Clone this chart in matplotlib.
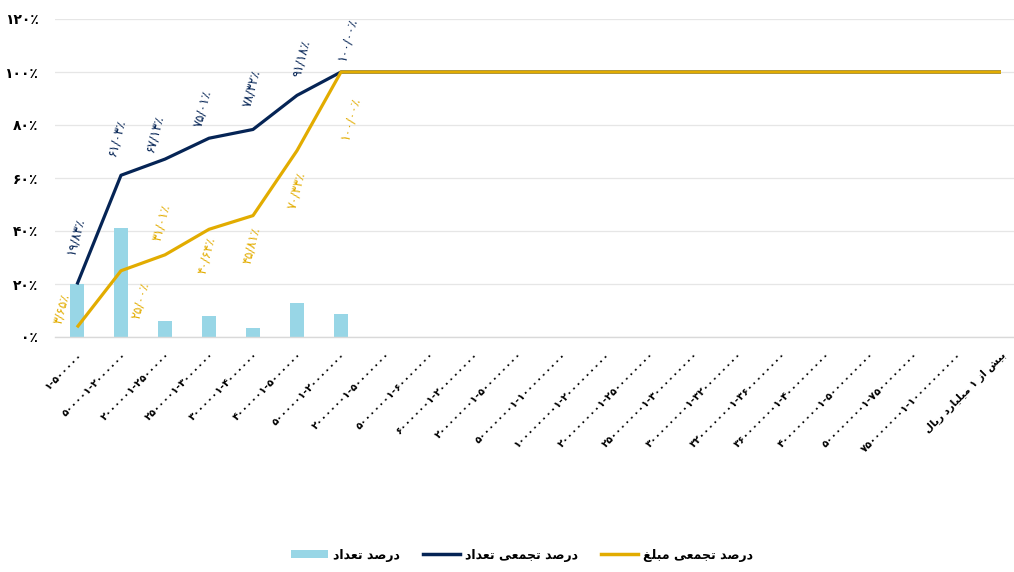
import matplotlib
matplotlib.use("Agg")
import matplotlib.pyplot as plt
from matplotlib.patches import Patch
from matplotlib.lines import Line2D

# ---------------- data ----------------
categories = [
    "۱-۵۰۰۰۰۰",
    "۵۰۰۰۰۱-۲۰۰۰۰۰۰",
    "۲۰۰۰۰۰۱-۲۵۰۰۰۰۰",
    "۲۵۰۰۰۰۱-۳۰۰۰۰۰۰",
    "۳۰۰۰۰۰۱-۴۰۰۰۰۰۰",
    "۴۰۰۰۰۰۱-۵۰۰۰۰۰۰",
    "۵۰۰۰۰۰۱-۲۰۰۰۰۰۰۰",
    "۲۰۰۰۰۰۰۱-۵۰۰۰۰۰۰۰",
    "۵۰۰۰۰۰۰۱-۶۰۰۰۰۰۰۰",
    "۶۰۰۰۰۰۰۱-۲۰۰۰۰۰۰۰۰",
    "۲۰۰۰۰۰۰۰۱-۵۰۰۰۰۰۰۰۰",
    "۵۰۰۰۰۰۰۰۱-۱۰۰۰۰۰۰۰۰۰",
    "۱۰۰۰۰۰۰۰۰۱-۲۰۰۰۰۰۰۰۰۰",
    "۲۰۰۰۰۰۰۰۰۱-۲۵۰۰۰۰۰۰۰۰",
    "۲۵۰۰۰۰۰۰۰۱-۳۰۰۰۰۰۰۰۰۰",
    "۳۰۰۰۰۰۰۰۰۱-۳۲۰۰۰۰۰۰۰۰",
    "۳۲۰۰۰۰۰۰۰۱-۳۶۰۰۰۰۰۰۰۰",
    "۳۶۰۰۰۰۰۰۰۱-۴۰۰۰۰۰۰۰۰۰",
    "۴۰۰۰۰۰۰۰۰۱-۵۰۰۰۰۰۰۰۰۰",
    "۵۰۰۰۰۰۰۰۰۱-۷۵۰۰۰۰۰۰۰۰",
    "۷۵۰۰۰۰۰۰۰۱-۱۰۰۰۰۰۰۰۰۰۰",
    "بیش از ۱ میلیارد ریال",
]
pct_count = [19.83, 41.20, 6.10, 7.88, 3.31, 12.86, 8.82,
             0, 0, 0, 0, 0, 0, 0, 0, 0, 0, 0, 0, 0, 0, 0]
cum_count = [19.83, 61.03, 67.13, 75.01, 78.32, 91.18, 100.00,
             100, 100, 100, 100, 100, 100, 100, 100, 100, 100, 100, 100, 100, 100, 100]
cum_amount = [3.65, 25.00, 31.01, 40.64, 45.81, 70.33, 100.00,
              100, 100, 100, 100, 100, 100, 100, 100, 100, 100, 100, 100, 100, 100, 100]
count_labels = ["۱۹/۸۳٪", "۶۱/۰۳٪", "۶۷/۱۳٪", "۷۵/۰۱٪", "۷۸/۳۲٪", "۹۱/۱۸٪", "۱۰۰/۰۰٪"]
amount_labels = ["۳/۶۵٪", "۲۵/۰۰٪", "۳۱/۰۱٪", "۴۰/۶۴٪", "۴۵/۸۱٪", "۷۰/۳۳٪", "۱۰۰/۰۰٪"]
y_ticks = [0, 20, 40, 60, 80, 100, 120]
y_tick_labels = ["۰٪", "۲۰٪", "۴۰٪", "۶۰٪", "۸۰٪", "۱۰۰٪", "۱۲۰٪"]
series_names = ["درصد تعداد", "درصد تجمعی تعداد", "درصد تجمعی مبلغ"]

# ---------------- minimal Persian shaping ----------------
FORMS = {
    'ا': (0xFE8D, 0xFE8E, None, None),
    'ب': (0xFE8F, 0xFE90, 0xFE91, 0xFE92),
    'ت': (0xFE95, 0xFE96, 0xFE97, 0xFE98),
    'ج': (0xFE9D, 0xFE9E, 0xFE9F, 0xFEA0),
    'د': (0xFEA9, 0xFEAA, None, None),
    'ر': (0xFEAD, 0xFEAE, None, None),
    'ز': (0xFEAF, 0xFEB0, None, None),
    'ش': (0xFEB5, 0xFEB6, 0xFEB7, 0xFEB8),
    'ص': (0xFEB9, 0xFEBA, 0xFEBB, 0xFEBC),
    'ع': (0xFEC9, 0xFECA, 0xFECB, 0xFECC),
    'غ': (0xFECD, 0xFECE, 0xFECF, 0xFED0),
    'ل': (0xFEDD, 0xFEDE, 0xFEDF, 0xFEE0),
    'م': (0xFEE1, 0xFEE2, 0xFEE3, 0xFEE4),
    'ی': (0xFBFC, 0xFBFD, 0xFBFE, 0xFBFF),
}


def shape(text):
    out = []
    n = len(text)
    for i, ch in enumerate(text):
        if ch not in FORMS:
            out.append(ch)
            continue
        prev = text[i - 1] if i > 0 else ''
        nxt = text[i + 1] if i < n - 1 else ''
        jp = prev in FORMS and FORMS[prev][2] is not None
        jn = FORMS[ch][2] is not None and nxt in FORMS
        f = FORMS[ch]
        if jp and jn:
            code = f[3]
        elif jp:
            code = f[1]
        elif jn:
            code = f[2]
        else:
            code = f[0]
        out.append(chr(code))
    return ''.join(out)[::-1]


def vis(text):
    if any(c in FORMS for c in text):
        return shape(text)
    return text


# ---------------- plot ----------------
plt.rcParams['font.family'] = ['DejaVu Sans']
NAVY = "#052455"
GOLD = "#E2AC00"
BLUE = "#98D6E6"

fig = plt.figure(figsize=(10.14, 5.72), dpi=100)
ax = fig.add_axes([55 / 1014, 1 - 337 / 572, 968 / 1014, 318 / 572])

x = list(range(len(categories)))
ax.bar(x, pct_count, width=0.31, color=BLUE, zorder=2)
ax.plot(x, cum_count, color=NAVY, lw=2.3, zorder=3, solid_capstyle='butt')
ax.plot(x, cum_amount, color=GOLD, lw=2.3, zorder=4, solid_capstyle='butt')

ax.set_xlim(-0.5, len(categories) - 0.5)
ax.set_ylim(0, 120)
ax.set_yticks(y_ticks)
ax.set_yticklabels(y_tick_labels, fontsize=10, fontweight='bold')
ax.set_xticks(x)
ax.set_xticklabels([vis(c) for c in categories], rotation=45, ha='right',
                   rotation_mode='anchor', fontsize=7.5, fontweight='bold')
ax.tick_params(axis='both', length=0)
ax.tick_params(axis='y', pad=12)
ax.tick_params(axis='x', pad=9)
ax.grid(axis='y', color='#e6e6e6', lw=0.9, zorder=0)
ax.set_axisbelow(True)
for s in ['top', 'right', 'left']:
    ax.spines[s].set_visible(False)
ax.spines['bottom'].set_color('#d9d9d9')
ax.spines['bottom'].set_linewidth(1.0)

count_offsets = [(-2, 48), (-4, 38), (-10, 26), (-6, 30), (-1, 41), (4, 37), (6, 33)]
amount_offsets = [(-15, 19), (20, -30), (-4, 32), (-2, -26), (-1, -30), (0, -40), (9, -46)]
for i, (lab, off) in enumerate(zip(count_labels, count_offsets)):
    ax.annotate(lab, (i, cum_count[i]), xytext=off, textcoords='offset pixels',
                ha='center', va='center', rotation=75, fontsize=9, color=NAVY)
for i, (lab, off) in enumerate(zip(amount_labels, amount_offsets)):
    ax.annotate(lab, (i, cum_amount[i]), xytext=off, textcoords='offset pixels',
                ha='center', va='center', rotation=75, fontsize=9, color=GOLD)

handles = [Patch(facecolor=BLUE, edgecolor='none'),
           Line2D([0], [0], color=NAVY, lw=2.5),
           Line2D([0], [0], color=GOLD, lw=2.5)]
fig.legend(handles, [vis(s) for s in series_names], loc='center',
           bbox_to_anchor=(522 / 1014, 1 - 555 / 572), ncol=3, frameon=False,
           prop={'size': 9, 'weight': 'bold'}, handlelength=3.0,
           handleheight=0.6, handletextpad=0.4, columnspacing=1.8)

fig.savefig("out.png", dpi=100)
